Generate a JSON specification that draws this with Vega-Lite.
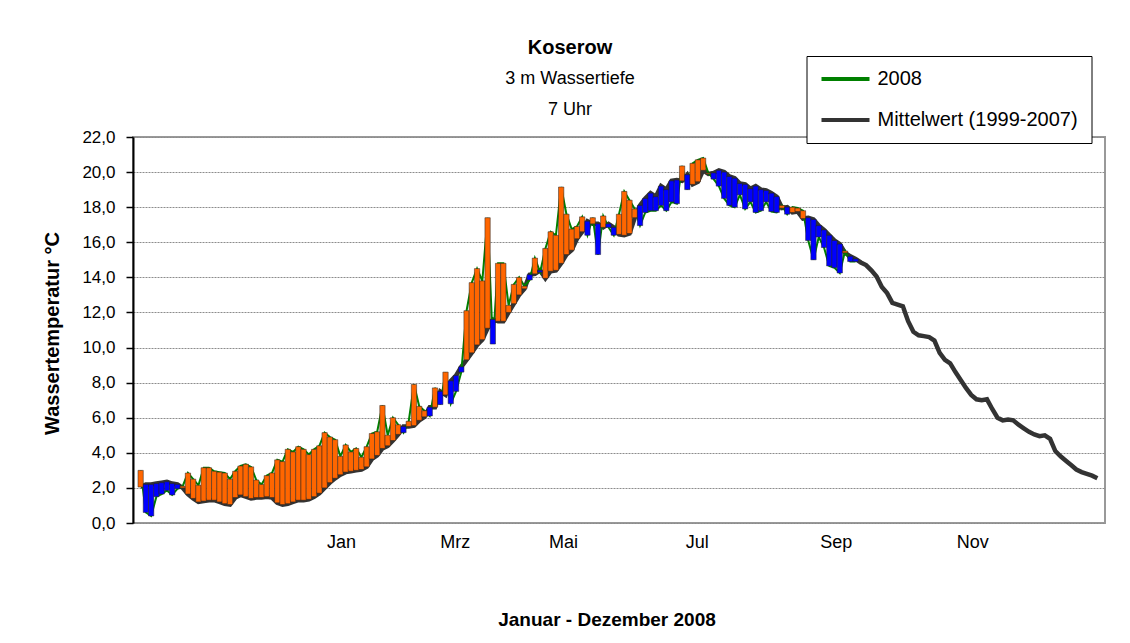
{
  "$schema": "https://vega.github.io/schema/vega-lite/v6.json",
  "width": 972,
  "height": 386,
  "autosize": "none",
  "padding": {"left": 133, "top": 137, "right": 25, "bottom": 120},
  "background": "#ffffff",
  "title": {
    "text": "Koserow",
    "subtitle": ["3 m Wassertiefe", "7 Uhr"],
    "anchor": "middle",
    "frame": "group",
    "dx": -49,
    "dy": 83,
    "offset": 20,
    "font": "Liberation Sans",
    "fontSize": 20,
    "fontWeight": "bold",
    "color": "#000000",
    "subtitleFont": "Liberation Sans",
    "subtitleFontSize": 18,
    "subtitleColor": "#000000",
    "subtitleLineHeight": 31,
    "subtitlePadding": 12
  },
  "data": {
    "values": [
      {"day": 1, "w2008": 3.0, "mittel": 2.05},
      {"day": 3, "w2008": 0.6, "mittel": 2.2},
      {"day": 5, "w2008": 0.4, "mittel": 2.2},
      {"day": 7, "w2008": 1.5, "mittel": 2.25},
      {"day": 9, "w2008": 1.65, "mittel": 2.3},
      {"day": 11, "w2008": 1.85, "mittel": 2.35},
      {"day": 13, "w2008": 1.6, "mittel": 2.25},
      {"day": 15, "w2008": 1.95, "mittel": 2.2},
      {"day": 17, "w2008": 2.1, "mittel": 2.0},
      {"day": 19, "w2008": 2.85, "mittel": 1.65},
      {"day": 21, "w2008": 2.5, "mittel": 1.4},
      {"day": 23, "w2008": 2.15, "mittel": 1.2},
      {"day": 25, "w2008": 3.15, "mittel": 1.25},
      {"day": 27, "w2008": 3.15, "mittel": 1.3},
      {"day": 29, "w2008": 2.95, "mittel": 1.3},
      {"day": 31, "w2008": 2.9, "mittel": 1.2},
      {"day": 33, "w2008": 2.85, "mittel": 1.1},
      {"day": 35, "w2008": 2.5, "mittel": 1.05},
      {"day": 37, "w2008": 2.95, "mittel": 1.45},
      {"day": 39, "w2008": 3.25, "mittel": 1.6},
      {"day": 41, "w2008": 3.35, "mittel": 1.5},
      {"day": 43, "w2008": 3.2, "mittel": 1.4},
      {"day": 45, "w2008": 2.45, "mittel": 1.45},
      {"day": 47, "w2008": 2.2, "mittel": 1.45},
      {"day": 49, "w2008": 2.7, "mittel": 1.5},
      {"day": 51, "w2008": 2.85, "mittel": 1.45},
      {"day": 53, "w2008": 3.6, "mittel": 1.15},
      {"day": 55, "w2008": 3.5, "mittel": 1.05},
      {"day": 57, "w2008": 4.2, "mittel": 1.1},
      {"day": 59, "w2008": 4.05, "mittel": 1.2},
      {"day": 61, "w2008": 4.35, "mittel": 1.3},
      {"day": 63, "w2008": 4.2, "mittel": 1.3},
      {"day": 65, "w2008": 3.9, "mittel": 1.35},
      {"day": 67, "w2008": 4.2, "mittel": 1.5},
      {"day": 69, "w2008": 4.4, "mittel": 1.7},
      {"day": 71, "w2008": 5.15, "mittel": 2.0},
      {"day": 73, "w2008": 4.9, "mittel": 2.3},
      {"day": 75, "w2008": 4.75, "mittel": 2.55},
      {"day": 77, "w2008": 3.8, "mittel": 2.75},
      {"day": 79, "w2008": 4.45, "mittel": 2.9},
      {"day": 81, "w2008": 4.05, "mittel": 2.95},
      {"day": 83, "w2008": 4.25, "mittel": 3.0},
      {"day": 85, "w2008": 3.75, "mittel": 3.05},
      {"day": 87, "w2008": 4.35, "mittel": 3.2},
      {"day": 89, "w2008": 5.1, "mittel": 3.65},
      {"day": 91, "w2008": 5.2, "mittel": 3.85},
      {"day": 93, "w2008": 6.7, "mittel": 4.25},
      {"day": 95, "w2008": 5.0, "mittel": 4.4},
      {"day": 97, "w2008": 6.0, "mittel": 4.7},
      {"day": 99, "w2008": 5.6, "mittel": 5.05},
      {"day": 101, "w2008": 5.15, "mittel": 5.5},
      {"day": 103, "w2008": 5.8, "mittel": 5.5},
      {"day": 105, "w2008": 7.9, "mittel": 5.55},
      {"day": 107, "w2008": 6.65, "mittel": 5.85},
      {"day": 109, "w2008": 6.4, "mittel": 6.05},
      {"day": 111, "w2008": 6.1, "mittel": 6.6},
      {"day": 113, "w2008": 7.7, "mittel": 6.6},
      {"day": 115, "w2008": 6.75, "mittel": 7.5},
      {"day": 117, "w2008": 8.6, "mittel": 7.3},
      {"day": 119, "w2008": 6.8, "mittel": 8.1},
      {"day": 121, "w2008": 7.5, "mittel": 8.4},
      {"day": 123, "w2008": 8.6, "mittel": 8.9},
      {"day": 125, "w2008": 12.1, "mittel": 9.3},
      {"day": 127, "w2008": 13.7, "mittel": 9.7},
      {"day": 129, "w2008": 14.5, "mittel": 10.15},
      {"day": 131, "w2008": 13.8, "mittel": 10.45},
      {"day": 133, "w2008": 17.4, "mittel": 11.1},
      {"day": 135, "w2008": 10.2, "mittel": 11.6},
      {"day": 137, "w2008": 14.8, "mittel": 11.5},
      {"day": 139, "w2008": 14.8, "mittel": 11.5},
      {"day": 141, "w2008": 12.4, "mittel": 12.0},
      {"day": 143, "w2008": 13.6, "mittel": 12.5},
      {"day": 145, "w2008": 14.0, "mittel": 13.0},
      {"day": 147, "w2008": 13.5, "mittel": 13.35},
      {"day": 149, "w2008": 13.85, "mittel": 14.15},
      {"day": 151, "w2008": 15.1, "mittel": 14.2},
      {"day": 153, "w2008": 14.3, "mittel": 14.4},
      {"day": 155, "w2008": 15.65, "mittel": 13.95},
      {"day": 157, "w2008": 16.6, "mittel": 14.35},
      {"day": 159, "w2008": 16.4, "mittel": 14.4},
      {"day": 161, "w2008": 19.15, "mittel": 14.8},
      {"day": 163, "w2008": 17.6, "mittel": 15.3},
      {"day": 165, "w2008": 16.75, "mittel": 15.55},
      {"day": 167, "w2008": 16.9, "mittel": 16.2},
      {"day": 169, "w2008": 17.45, "mittel": 16.6},
      {"day": 171, "w2008": 16.4, "mittel": 17.2},
      {"day": 173, "w2008": 17.4, "mittel": 17.05},
      {"day": 175, "w2008": 15.3, "mittel": 17.05},
      {"day": 177, "w2008": 17.5, "mittel": 16.85},
      {"day": 179, "w2008": 16.85, "mittel": 17.05},
      {"day": 181, "w2008": 16.4, "mittel": 16.85},
      {"day": 183, "w2008": 17.6, "mittel": 16.45},
      {"day": 185, "w2008": 18.9, "mittel": 16.4},
      {"day": 187, "w2008": 18.4, "mittel": 16.5},
      {"day": 189, "w2008": 17.9, "mittel": 17.4},
      {"day": 191, "w2008": 16.95, "mittel": 18.1},
      {"day": 193, "w2008": 17.7, "mittel": 18.5},
      {"day": 195, "w2008": 17.8, "mittel": 18.8},
      {"day": 197, "w2008": 17.8, "mittel": 18.6},
      {"day": 199, "w2008": 18.1, "mittel": 19.2},
      {"day": 201, "w2008": 17.8, "mittel": 19.0},
      {"day": 203, "w2008": 18.3, "mittel": 19.5},
      {"day": 205, "w2008": 18.2, "mittel": 19.55},
      {"day": 207, "w2008": 20.35, "mittel": 19.5},
      {"day": 209, "w2008": 19.0, "mittel": 19.85},
      {"day": 211, "w2008": 20.5, "mittel": 19.3},
      {"day": 213, "w2008": 20.7, "mittel": 19.45},
      {"day": 215, "w2008": 20.8, "mittel": 20.1},
      {"day": 217, "w2008": 19.95, "mittel": 19.9},
      {"day": 219, "w2008": 19.6, "mittel": 19.95},
      {"day": 221, "w2008": 19.2, "mittel": 20.1},
      {"day": 223, "w2008": 18.5, "mittel": 20.0},
      {"day": 225, "w2008": 18.1, "mittel": 19.75},
      {"day": 227, "w2008": 18.0, "mittel": 19.65},
      {"day": 229, "w2008": 18.7, "mittel": 19.35},
      {"day": 231, "w2008": 17.9, "mittel": 19.3},
      {"day": 233, "w2008": 18.3, "mittel": 19.05},
      {"day": 235, "w2008": 17.7, "mittel": 19.2},
      {"day": 237, "w2008": 17.8, "mittel": 19.0},
      {"day": 239, "w2008": 18.3, "mittel": 18.95},
      {"day": 241, "w2008": 17.75, "mittel": 18.8},
      {"day": 243, "w2008": 17.7, "mittel": 18.6},
      {"day": 245, "w2008": 18.1, "mittel": 17.95},
      {"day": 247, "w2008": 17.6, "mittel": 18.0},
      {"day": 249, "w2008": 18.0, "mittel": 17.7},
      {"day": 251, "w2008": 17.95, "mittel": 17.75},
      {"day": 253, "w2008": 17.8, "mittel": 17.35},
      {"day": 255, "w2008": 16.1, "mittel": 17.4},
      {"day": 257, "w2008": 15.0, "mittel": 17.3},
      {"day": 259, "w2008": 16.3, "mittel": 16.95},
      {"day": 261, "w2008": 15.7, "mittel": 16.7},
      {"day": 263, "w2008": 14.65, "mittel": 16.4},
      {"day": 265, "w2008": 14.55, "mittel": 16.1},
      {"day": 267, "w2008": 14.25, "mittel": 15.9},
      {"day": 269, "w2008": 15.5, "mittel": 15.4},
      {"day": 271, "w2008": 14.9, "mittel": 15.2},
      {"day": 273, "w2008": 14.9, "mittel": 15.05},
      {"day": 275, "mittel": 14.85},
      {"day": 277, "mittel": 14.7},
      {"day": 279, "mittel": 14.4},
      {"day": 281, "mittel": 14.05},
      {"day": 283, "mittel": 13.45},
      {"day": 285, "mittel": 13.1},
      {"day": 287, "mittel": 12.55},
      {"day": 289, "mittel": 12.45},
      {"day": 291, "mittel": 12.35},
      {"day": 293, "mittel": 11.5},
      {"day": 295, "mittel": 10.9},
      {"day": 297, "mittel": 10.7},
      {"day": 299, "mittel": 10.65},
      {"day": 301, "mittel": 10.6},
      {"day": 303, "mittel": 10.4},
      {"day": 305, "mittel": 9.7},
      {"day": 307, "mittel": 9.3},
      {"day": 309, "mittel": 9.1},
      {"day": 311, "mittel": 8.6},
      {"day": 313, "mittel": 8.15},
      {"day": 315, "mittel": 7.7},
      {"day": 317, "mittel": 7.3},
      {"day": 319, "mittel": 7.05},
      {"day": 321, "mittel": 7.0},
      {"day": 323, "mittel": 7.05},
      {"day": 325, "mittel": 6.5},
      {"day": 327, "mittel": 6.0},
      {"day": 329, "mittel": 5.85},
      {"day": 331, "mittel": 5.9},
      {"day": 333, "mittel": 5.85},
      {"day": 335, "mittel": 5.6},
      {"day": 337, "mittel": 5.4},
      {"day": 339, "mittel": 5.2},
      {"day": 341, "mittel": 5.05},
      {"day": 343, "mittel": 4.95},
      {"day": 345, "mittel": 5.0},
      {"day": 347, "mittel": 4.8},
      {"day": 349, "mittel": 4.1},
      {"day": 351, "mittel": 3.8},
      {"day": 353, "mittel": 3.55},
      {"day": 355, "mittel": 3.3},
      {"day": 357, "mittel": 3.05},
      {"day": 359, "mittel": 2.9},
      {"day": 361, "mittel": 2.8},
      {"day": 363, "mittel": 2.7},
      {"day": 365, "mittel": 2.55}
    ]
  },
  "encoding": {
    "x": {
      "field": "day",
      "type": "quantitative",
      "scale": {"domain": [0, 366], "nice": false, "zero": false},
      "axis": {
        "title": "Januar - Dezember 2008",
        "values": [77.2, 120.5, 161.7, 212.6, 265.5, 317.4],
        "labelExpr": "datum.value < 100 ? 'Jan' : datum.value < 140 ? 'Mrz' : datum.value < 190 ? 'Mai' : datum.value < 240 ? 'Jul' : datum.value < 290 ? 'Sep' : 'Nov'",
        "grid": false,
        "ticks": false,
        "domain": false,
        "labelFontSize": 18,
        "labelPadding": 10,
        "labelOverlap": false,
        "labelFlush": false,
        "titleFontSize": 19,
        "titleFontWeight": "bold",
        "titleX": 473.5,
        "titleY": 96,
        "titleAlign": "center",
        "titleBaseline": "middle"
      }
    }
  },
  "layer": [
    {
      "mark": {"type": "line", "strokeWidth": 4.5, "interpolate": "linear"},
      "encoding": {
        "y": {
          "field": "mittel",
          "type": "quantitative",
          "scale": {"domain": [0, 22], "nice": false},
          "axis": {
            "title": "Wassertemperatur °C",
            "values": [0, 2, 4, 6, 8, 10, 12, 14, 16, 18, 20, 22],
            "labelExpr": "replace(format(datum.value, '.1f'), '.', ',')",
            "labelFontSize": 17,
            "labelPadding": 11,
            "labelOverlap": false,
            "tickSize": 7,
            "tickColor": "#000000",
            "tickWidth": 1.5,
            "domainColor": "#000000",
            "domainWidth": 2,
            "grid": true,
            "gridColor": "#8c8c8c",
            "gridDash": [2, 1],
            "gridWidth": 1,
            "titleFontSize": 20,
            "titleFontWeight": "bold",
            "titleX": -81,
            "titleY": 196,
            "titleAlign": "center",
            "titleBaseline": "middle"
          }
        },
        "color": {
          "datum": "mittel",
          "type": "nominal",
          "scale": {"domain": ["w2008", "mittel"], "range": ["#008000", "#333333"]},
          "legend": {
            "title": null,
            "labelExpr": "datum.label == 'w2008' ? '2008' : 'Mittelwert (1999-2007)'"
          }
        }
      }
    },
    {
      "mark": {"type": "line", "strokeWidth": 2},
      "encoding": {
        "y": {
          "field": "w2008",
          "type": "quantitative",
          "axis": {
            "title": "Wassertemperatur °C",
            "values": [0, 2, 4, 6, 8, 10, 12, 14, 16, 18, 20, 22],
            "labelExpr": "replace(format(datum.value, '.1f'), '.', ',')",
            "labelFontSize": 17,
            "labelPadding": 11,
            "labelOverlap": false,
            "tickSize": 7,
            "tickColor": "#000000",
            "tickWidth": 1.5,
            "domainColor": "#000000",
            "domainWidth": 2,
            "grid": true,
            "gridColor": "#8c8c8c",
            "gridDash": [2, 1],
            "gridWidth": 1,
            "titleFontSize": 20,
            "titleFontWeight": "bold",
            "titleX": -81,
            "titleY": 196,
            "titleAlign": "center",
            "titleBaseline": "middle"
          }
        },
        "color": {
          "datum": "w2008",
          "type": "nominal",
          "legend": {
            "title": null,
            "labelExpr": "datum.label == 'w2008' ? '2008' : 'Mittelwert (1999-2007)'"
          }
        }
      }
    },
    {
      "transform": [{"filter": "isValid(datum.w2008)"}],
      "mark": {"type": "bar", "width": 5.311, "stroke": "#222222", "strokeWidth": 0.5},
      "encoding": {
        "y": {
          "field": "mittel",
          "type": "quantitative",
          "axis": {
            "title": "Wassertemperatur °C",
            "values": [0, 2, 4, 6, 8, 10, 12, 14, 16, 18, 20, 22],
            "labelExpr": "replace(format(datum.value, '.1f'), '.', ',')",
            "labelFontSize": 17,
            "labelPadding": 11,
            "labelOverlap": false,
            "tickSize": 7,
            "tickColor": "#000000",
            "tickWidth": 1.5,
            "domainColor": "#000000",
            "domainWidth": 2,
            "grid": true,
            "gridColor": "#8c8c8c",
            "gridDash": [2, 1],
            "gridWidth": 1,
            "titleFontSize": 20,
            "titleFontWeight": "bold",
            "titleX": -81,
            "titleY": 196,
            "titleAlign": "center",
            "titleBaseline": "middle"
          }
        },
        "y2": {"field": "w2008"},
        "fill": {
          "condition": {"test": "datum.w2008 > datum.mittel", "value": "#FF6600"},
          "value": "#0000FF"
        }
      }
    }
  ],
  "config": {
    "font": "Liberation Sans",
    "view": {"stroke": "#999999", "strokeWidth": 2},
    "axis": {"labelFont": "Liberation Sans", "titleFont": "Liberation Sans", "labelColor": "#000000", "titleColor": "#000000"},
    "legend": {
      "orient": "none",
      "legendX": 673.5,
      "legendY": -81,
      "symbolType": "stroke",
      "symbolSize": 2304,
      "symbolStrokeWidth": 4,
      "labelFont": "Liberation Sans",
      "labelFontSize": 20,
      "labelColor": "#000000",
      "labelOffset": 6,
      "padding": 13,
      "rowPadding": 21,
      "clipHeight": 20,
      "strokeColor": "#000000",
      "fillColor": "#ffffff",
      "labelLimit": 400
    }
  }
}
